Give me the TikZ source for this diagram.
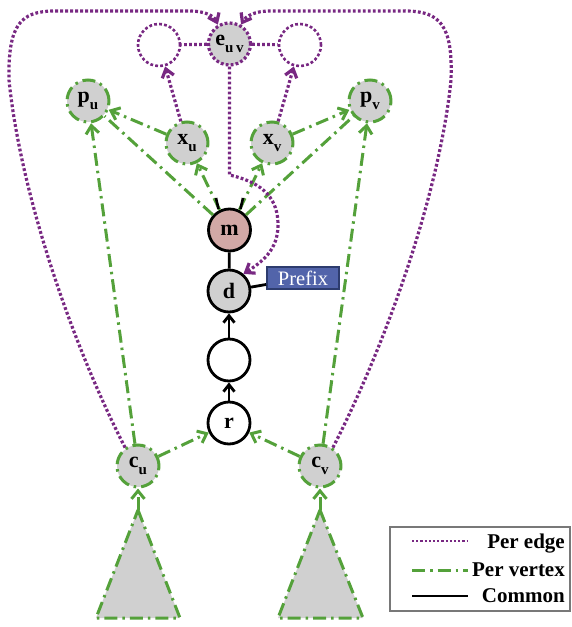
\documentclass[tikz,border=0pt]{standalone}
\usepackage{fontspec}
\setmainfont{Liberation Serif}
\usetikzlibrary{arrows.meta}

\definecolor{epurple}{RGB}{120,40,130}
\definecolor{vgreen}{RGB}{84,161,58}
\definecolor{nodegray}{RGB}{208,208,208}
\definecolor{mpink}{RGB}{210,168,166}
\definecolor{prefixblue}{RGB}{82,100,170}
\definecolor{prefixdark}{RGB}{45,60,110}
\definecolor{legendgray}{RGB}{120,120,120}

% lowered index letters for the node labels
\newcommand\lowidx[1]{\raisebox{-0.3em}{\fontsize{15}{15}\selectfont #1}}

\begin{document}
\begin{tikzpicture}[x=1pt,y=-1pt,
  vx/.style={circle, minimum size=42pt, inner sep=0pt,
    font=\bfseries\fontsize{22}{22}\selectfont},
  common/.style={draw=black, line width=2.8pt},
  pervertex/.style={draw=vgreen, line width=3pt,
    dash pattern=on 13pt off 5pt on 2.5pt off 5pt},
  peredge/.style={draw=epurple, line width=3.2pt,
    dash pattern=on 2.8pt off 2.2pt},
  gtip/.style={-{Straight Barb[length=8pt,width=13pt]}},
  ptip/.style={-{Straight Barb[length=8pt,width=12pt]}},
  btip/.style={-{Straight Barb[length=7pt,width=11pt]}},
  legendtext/.style={anchor=east, inner sep=0pt,
    font=\bfseries\fontsize{21}{21}\selectfont}
]
\useasboundingbox (0,0) rectangle (571,627);

% vertices
\node[vx, peredge, fill=nodegray] (euv) at (229.5,44) {e\lowidx{u\,v}};
\node[vx, peredge, line width=2.6pt, fill=white] (lu) at (159,45) {};
\node[vx, peredge, line width=2.6pt, fill=white] (lv) at (300,45) {};
\node[vx, pervertex, fill=nodegray] (pu) at (88,101) {p\lowidx{u}};
\node[vx, pervertex, fill=nodegray] (pv) at (370,101) {p\lowidx{v}};
\node[vx, pervertex, fill=nodegray] (xu) at (187,143) {x\lowidx{u}};
\node[vx, pervertex, fill=nodegray] (xv) at (272,143) {x\lowidx{v}};
\node[vx, common, fill=mpink] (m) at (229.5,230) {m};
\node[vx, common, fill=nodegray] (d) at (229,291) {d};
\node[vx, common, fill=white] (e) at (229,360) {};
\node[vx, common, fill=white] (r) at (229,423) {r};
\node[vx, pervertex, fill=nodegray] (cu) at (138,466) {c\lowidx{u}};
\node[vx, pervertex, fill=nodegray] (cv) at (320,466) {c\lowidx{v}};
\node[draw=prefixdark, line width=1.8pt, fill=prefixblue, text=white,
  minimum width=72pt, minimum height=22pt, inner sep=0pt,
  font=\fontsize{20.5}{20.5}\selectfont] (prefix) at (303,278) {Prefix};

% subtrees below the c vertices
\coordinate (tu) at (138,510);
\coordinate (tv) at (320,510);
\draw[pervertex, fill=nodegray] (tu) -- (180,618) -- (96,618) -- cycle;
\draw[pervertex, fill=nodegray] (tv) -- (363,618) -- (278,618) -- cycle;
\draw[pervertex, gtip] (tu) -- (cu);
\draw[pervertex, gtip] (tv) -- (cv);

% per-vertex connectors
\draw[pervertex, gtip] (xu) -- (pu);
\draw[pervertex, gtip] (xv) -- (pv);
\draw[pervertex, gtip] (m) -- (xu);
\draw[pervertex, gtip] (m) -- (xv);
\draw[pervertex] (m) -- (pu);
\draw[pervertex] (m) -- (pv);
\draw[pervertex, gtip] (cu) -- (pu);
\draw[pervertex, gtip] (cv) -- (pv);
\draw[pervertex, gtip] (cu) -- (r);
\draw[pervertex, gtip] (cv) -- (r);

% per-edge connectors
\draw[peredge, ptip] (xu) -- (lu);
\draw[peredge, ptip] (xv) -- (lv);
\draw[peredge] (euv) -- (lu);
\draw[peredge] (euv) -- (lv);
\draw[peredge, ptip] (euv.south) -- (229.5,175)
  .. controls (265,183) and (278,200) .. (278,225)
  .. controls (278,250) and (262,262) .. (d.50);
\draw[peredge, ptip] (cu.125) .. controls (70,340) and (20,190) .. (9,80)
  .. controls (8,25) and (20,11) .. (55,11) -- (190,11)
  .. controls (205,11) and (214,16) .. (euv.121);
\draw[peredge, ptip] (cv.55) .. controls (388,340) and (440,190) .. (451,80)
  .. controls (453,25) and (440,11) .. (405,11) -- (270,11)
  .. controls (255,11) and (246,16) .. (euv.59);

% common connectors
\draw[common] (m) -- (d);
\draw[common] (d) -- (prefix);
\draw[common, btip] (e) -- (d);
\draw[common, btip] (r) -- (e);
\draw[black, line width=2.6pt] (216,198) -- (218.5,209);
\draw[black, line width=2.6pt] (243,198) -- (240.5,209);

% legend
\draw[legendgray, line width=1.4pt] (390,527) rectangle (570,611);
\draw[peredge, line width=2.4pt, dash pattern=on 2.2pt off 2pt] (412,541) -- (468,541);
\draw[pervertex] (412,570) -- (468,570);
\draw[common] (412,596) -- (468,596);
\node[legendtext] (l1) at (565,544) {Per edge};
\node[legendtext] (l2) at (565,570) {Per vertex};
\node[legendtext] (l3) at (565,596) {Common};
\end{tikzpicture}
\end{document}
